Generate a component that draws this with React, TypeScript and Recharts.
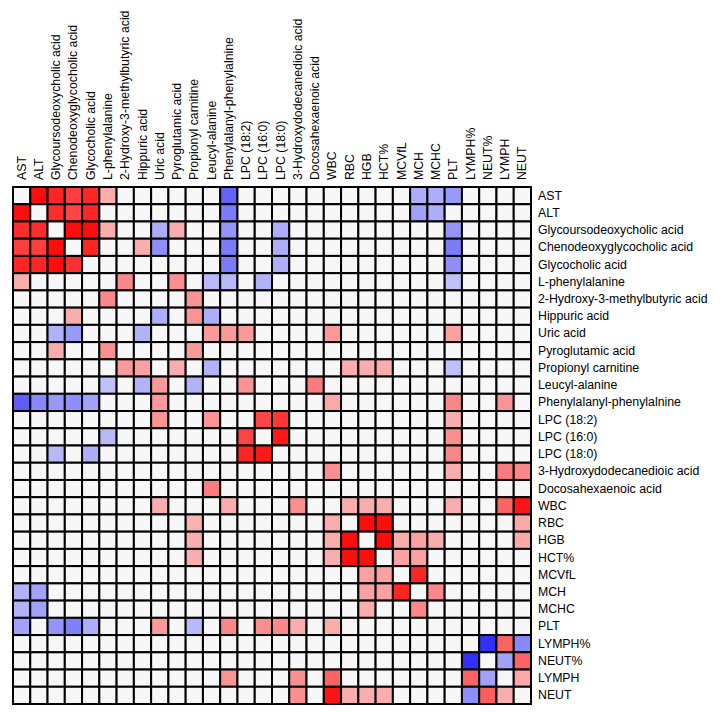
import React from 'react';
import { ScatterChart, Scatter, XAxis, YAxis } from 'recharts';

const labels = [
  'AST', 'ALT', 'Glycoursodeoxycholic acid', 'Chenodeoxyglycocholic acid', 'Glycocholic acid',
  'L-phenylalanine', '2-Hydroxy-3-methylbutyric acid', 'Hippuric acid', 'Uric acid', 'Pyroglutamic acid',
  'Propionyl carnitine', 'Leucyl-alanine', 'Phenylalanyl-phenylalnine', 'LPC (18:2)', 'LPC (16:0)',
  'LPC (18:0)', '3-Hydroxydodecanedioic acid', 'Docosahexaenoic acid', 'WBC', 'RBC',
  'HGB', 'HCT%', 'MCVfL', 'MCH', 'MCHC', 'PLT', 'LYMPH%', 'NEUT%', 'LYMPH', 'NEUT',
];

// non-zero cells per row: [column, correlation]
const corrRows: [number, number][][] = [
  [[1, 0.95], [2, 0.85], [3, 0.75], [4, 0.85], [5, 0.3], [12, -0.6], [23, -0.3], [24, -0.3], [25, -0.38]],
  [[0, 0.95], [2, 0.82], [3, 0.72], [4, 0.85], [12, -0.5], [23, -0.35], [24, -0.3]],
  [[0, 0.82], [1, 0.82], [3, 0.95], [4, 0.95], [5, 0.3], [8, -0.3], [9, 0.3], [12, -0.4], [15, -0.3], [25, -0.4]],
  [[0, 0.75], [1, 0.75], [2, 0.95], [4, 0.85], [7, 0.3], [8, -0.42], [12, -0.5], [15, -0.3], [25, -0.5]],
  [[0, 0.85], [1, 0.85], [2, 0.95], [3, 0.8], [12, -0.5], [15, -0.3], [25, -0.42]],
  [[0, 0.3], [6, 0.45], [9, 0.42], [11, -0.25], [12, -0.25], [14, -0.28], [25, -0.22]],
  [[5, 0.45], [10, 0.4]],
  [[3, 0.3], [8, -0.3], [10, 0.4], [11, -0.3]],
  [[2, -0.28], [3, -0.38], [7, -0.28], [11, 0.38], [12, 0.38], [13, 0.38], [18, 0.38], [25, 0.35]],
  [[2, 0.3], [5, 0.42], [10, 0.38]],
  [[6, 0.38], [7, 0.35], [9, 0.3], [11, -0.28], [19, 0.3], [20, 0.3], [21, 0.3], [25, -0.22]],
  [[5, -0.22], [7, -0.28], [8, 0.38], [10, -0.28], [13, 0.4], [17, 0.5]],
  [[0, -0.62], [1, -0.45], [2, -0.38], [3, -0.42], [4, -0.35], [8, 0.38], [18, 0.32], [25, 0.45], [28, 0.4]],
  [[8, 0.4], [11, 0.4], [14, 0.72], [15, 0.78], [25, 0.3]],
  [[5, -0.25], [13, 0.72], [15, 0.9], [25, 0.42]],
  [[2, -0.25], [4, -0.3], [13, 0.85], [14, 0.9], [25, 0.45]],
  [[18, 0.42], [25, 0.3], [28, 0.5], [29, 0.45]],
  [[11, 0.5]],
  [[8, 0.3], [12, 0.3], [16, 0.42], [19, 0.3], [20, 0.3], [21, 0.3], [25, 0.3], [28, 0.6], [29, 0.92]],
  [[10, 0.28], [18, 0.3], [20, 0.95], [21, 0.95], [29, 0.32]],
  [[10, 0.3], [18, 0.3], [19, 0.95], [21, 0.95], [22, 0.3], [23, 0.35], [24, 0.3], [29, 0.32]],
  [[10, 0.3], [18, 0.3], [19, 0.95], [20, 0.95], [22, 0.35], [23, 0.35]],
  [[20, 0.35], [21, 0.35], [23, 0.85]],
  [[0, -0.28], [1, -0.35], [20, 0.35], [21, 0.35], [22, 0.85], [24, 0.45]],
  [[0, -0.28], [1, -0.35], [20, 0.3], [23, 0.45]],
  [[0, -0.35], [2, -0.4], [3, -0.48], [4, -0.3], [8, 0.38], [10, -0.25], [12, 0.45], [14, 0.42], [15, 0.45], [16, 0.3], [18, 0.3]],
  [[27, -0.8], [28, 0.6], [29, -0.45]],
  [[26, -0.8], [28, -0.35], [29, 0.6]],
  [[12, 0.4], [16, 0.42], [18, 0.6], [26, 0.6], [27, -0.35], [29, 0.32]],
  [[16, 0.42], [18, 0.92], [19, 0.3], [20, 0.3], [21, 0.3], [26, -0.42], [27, 0.62], [28, 0.3]],
];

const idx = labels.map((_, i) => i);

const cells = idx.flatMap((row) =>
  idx.map((col) => {
    const hit = corrRows[row].find((c) => c[0] === col);
    return { x: col, y: row, v: hit ? hit[1] : 0 };
  })
);

// chart sits at the page's top-left corner (body margin cancelled)
const W = 720;
const H = 713;
const M = { top: 17, right: 4, bottom: 9, left: 13 };
const X_AXIS_H = 170;
const Y_AXIS_W = 185;
const FONT = 12.3;
const plotW = W - M.left - M.right - Y_AXIS_W;
const plotH = H - M.top - M.bottom - X_AXIS_H;
const cellW = plotW / labels.length;
const cellH = plotH / labels.length;
const gridTop = M.top + X_AXIS_H;
const gridRight = M.left + plotW;

const colour = (v: number) => {
  const a = Math.min(1, Math.abs(v));
  const w = 247;
  if (v > 0) {
    return `rgb(${Math.round(w + (255 - w) * a)},${Math.round(w * (1 - a))},${Math.round(w * (1 - a))})`;
  }
  if (v < 0) {
    return `rgb(${Math.round(w * (1 - a))},${Math.round(w * (1 - a))},${Math.round(w + (255 - w) * a)})`;
  }
  return '#f7f7f7';
};

const CellShape = (props: any) => {
  const { cx, cy, payload } = props;
  return (
    <rect
      x={cx - cellW / 2}
      y={cy - cellH / 2}
      width={cellW}
      height={cellH}
      fill={colour(payload.v)}
      stroke="#000"
      strokeWidth={2}
    />
  );
};

const TopTick = (props: any) => {
  const { x, payload } = props;
  const y = gridTop - 7;
  return (
    <text
      x={x}
      y={y}
      transform={`rotate(-90, ${x}, ${y})`}
      textAnchor="start"
      dominantBaseline="central"
      fontSize={FONT}
      fill="#000"
    >
      {labels[payload.value]}
    </text>
  );
};

const RightTick = (props: any) => {
  const { y, payload } = props;
  return (
    <text x={gridRight + 7} y={y} textAnchor="start" dominantBaseline="central" fontSize={FONT} fill="#000">
      {labels[payload.value]}
    </text>
  );
};

export default function App() {
  return (
    <div style={{ width: W, height: H, margin: -8, fontFamily: '"Liberation Sans", Arial, sans-serif' }}>
      <ScatterChart width={W} height={H} margin={M}>
        <XAxis
          type="number"
          dataKey="x"
          orientation="top"
          domain={[-0.5, labels.length - 0.5]}
          ticks={idx}
          interval={0}
          height={X_AXIS_H}
          axisLine={false}
          tickLine={false}
          tick={<TopTick />}
        />
        <YAxis
          type="number"
          dataKey="y"
          orientation="right"
          reversed
          domain={[-0.5, labels.length - 0.5]}
          ticks={idx}
          interval={0}
          width={Y_AXIS_W}
          axisLine={false}
          tickLine={false}
          tick={<RightTick />}
        />
        <Scatter data={cells} shape={<CellShape />} isAnimationActive={false} />
      </ScatterChart>
    </div>
  );
}
